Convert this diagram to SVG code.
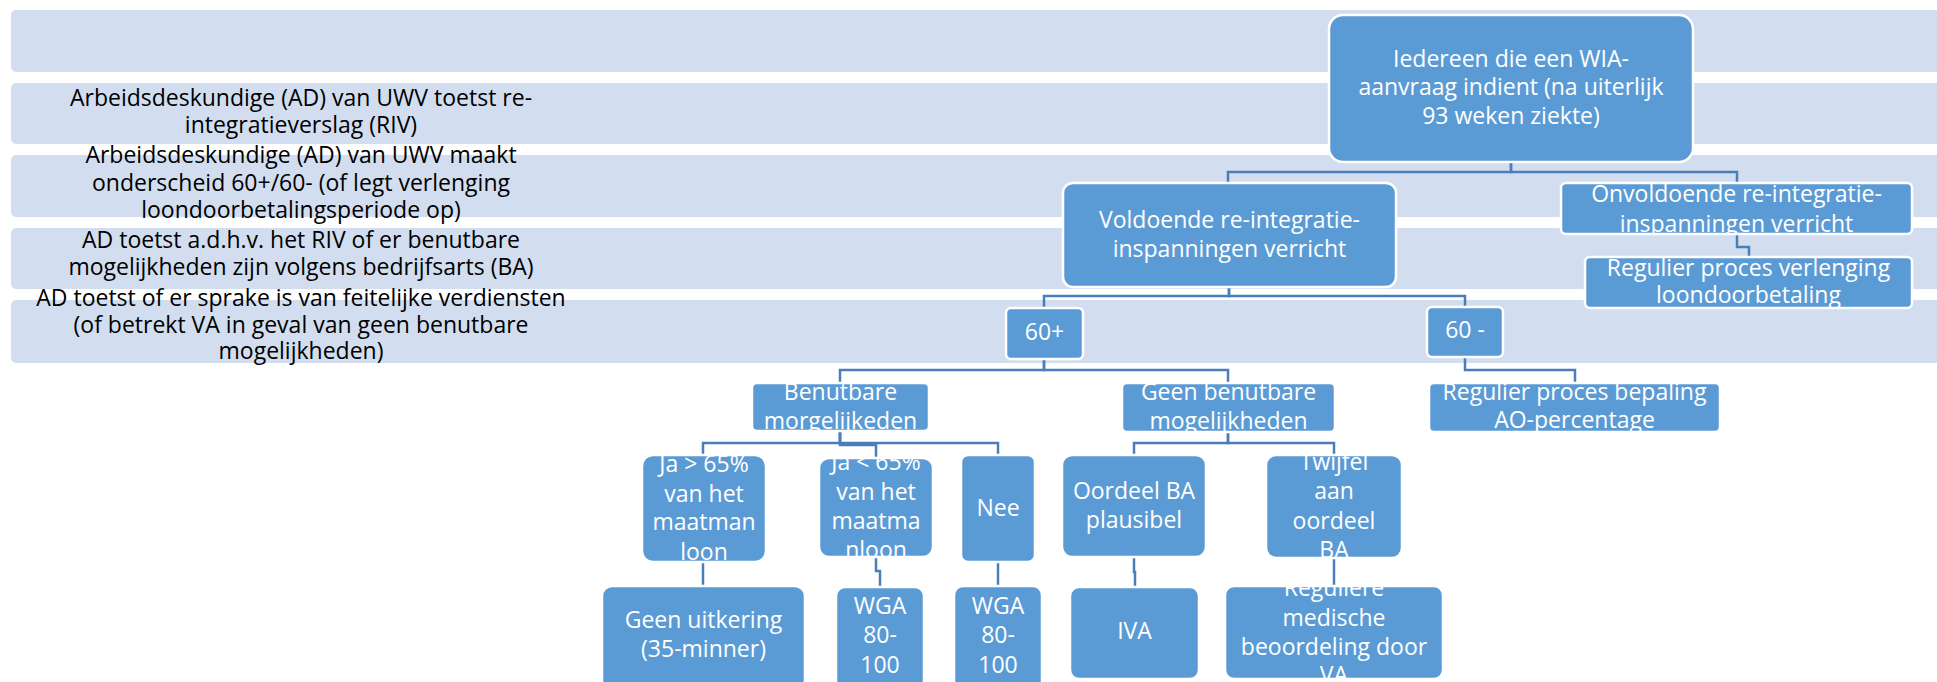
<svg xmlns="http://www.w3.org/2000/svg" width="1937" height="682" viewBox="0 0 1937 682">
<style>
.band{fill:#D2DEEF;}
.bt{font-family:"Open Sans","Noto Sans",sans-serif;font-size:23px;fill:#000;text-anchor:middle;}
.node{fill:#5B9BD5;stroke:#FFFFFF;stroke-width:2.5;}
.nt{font-family:"Open Sans","Noto Sans",sans-serif;font-size:23px;fill:#FFFFFF;text-anchor:middle;}
.conn{fill:none;stroke:#4A7EBB;stroke-width:2.5;}
</style>
<defs>
<clipPath id="c-onv"><rect x="1561" y="183" width="351" height="51" rx="5"/></clipPath>
<clipPath id="c-rvl"><rect x="1585" y="257" width="327" height="51" rx="5"/></clipPath>
<clipPath id="c-rbp"><rect x="1429" y="383" width="291" height="49" rx="5"/></clipPath>
<clipPath id="c-ben"><rect x="752" y="383" width="177" height="48" rx="5"/></clipPath>
<clipPath id="c-gbm"><rect x="1122" y="383" width="213" height="49" rx="5"/></clipPath>
<clipPath id="c-ja1"><rect x="642" y="455" width="124" height="107" rx="11"/></clipPath>
<clipPath id="c-ja2"><rect x="819" y="458" width="114" height="99" rx="10"/></clipPath>
<clipPath id="c-twi"><rect x="1266" y="455" width="136" height="103" rx="10"/></clipPath>
<clipPath id="c-reg"><rect x="1225" y="586" width="218" height="93" rx="9"/></clipPath>
</defs>

<g id="bands">
<rect class="band" x="11" y="10" width="1940" height="62" rx="5"/>
<rect class="band" x="11" y="83" width="1940" height="61" rx="5"/>
<rect class="band" x="11" y="155" width="1940" height="62" rx="5"/>
<rect class="band" x="11" y="228" width="1940" height="61" rx="5"/>
<rect class="band" x="11" y="300" width="1940" height="63" rx="5"/>
<text class="bt" x="301"><tspan x="301" y="106">Arbeidsdeskundige (AD) van UWV toetst re-</tspan><tspan x="301" y="133">integratieverslag (RIV)</tspan></text>
<text class="bt" x="301"><tspan x="301" y="163">Arbeidsdeskundige (AD) van UWV maakt</tspan><tspan x="301" y="191">onderscheid 60+/60- (of legt verlenging</tspan><tspan x="301" y="218">loondoorbetalingsperiode op)</tspan></text>
<text class="bt" x="301"><tspan x="301" y="248">AD toetst a.d.h.v. het RIV of er benutbare</tspan><tspan x="301" y="275">mogelijkheden zijn volgens bedrijfsarts (BA)</tspan></text>
<text class="bt" x="301"><tspan x="301" y="306">AD toetst of er sprake is van feitelijke verdiensten</tspan><tspan x="301" y="333">(of betrekt VA in geval van geen benutbare</tspan><tspan x="301" y="359">mogelijkheden)</tspan></text>
</g>

<g id="connectors">
<path class="conn" d="M1511,162 V172 H1228 V183"/>
<path class="conn" d="M1511,162 V172 H1737 V183"/>
<path class="conn" d="M1737,234 V247 H1749 V257"/>
<path class="conn" d="M1229,287 V296 H1044 V308"/>
<path class="conn" d="M1229,287 V296 H1465 V307"/>
<path class="conn" d="M1044,359 V370 H840 V383"/>
<path class="conn" d="M1044,359 V370 H1228 V383"/>
<path class="conn" d="M1465,357 V370 H1575 V383"/>
<path class="conn" d="M840,431 V443 H703 V455"/>
<path class="conn" d="M840,431 V445 H876 V458"/>
<path class="conn" d="M840,431 V443 H998 V455"/>
<path class="conn" d="M1228,432 V443 H1134 V455"/>
<path class="conn" d="M1228,432 V443 H1334 V455"/>
<path class="conn" d="M703,562 V586"/>
<path class="conn" d="M876,557 V571 H880 V587"/>
<path class="conn" d="M998,562 V586"/>
<path class="conn" d="M1134,557 V572 H1135 V587"/>
<path class="conn" d="M1334,558 V586"/>
</g>

<g id="node-root">
<rect class="node" x="1329" y="15" width="364" height="147" rx="14"/>
<text class="nt"><tspan x="1511" y="67">Iedereen die een WIA-</tspan><tspan x="1511" y="95">aanvraag indient (na uiterlijk</tspan><tspan x="1511" y="124">93 weken ziekte)</tspan></text>
</g>
<g id="node-voldoende">
<rect class="node" x="1063" y="183" width="333" height="104" rx="10"/>
<text class="nt"><tspan x="1229.5" y="228">Voldoende re-integratie-</tspan><tspan x="1229.5" y="257">inspanningen verricht</tspan></text>
</g>
<g id="node-onvoldoende">
<rect class="node" x="1561" y="183" width="351" height="51" rx="5"/>
<text class="nt" clip-path="url(#c-onv)"><tspan x="1736.5" y="202">Onvoldoende re-integratie-</tspan><tspan x="1736.5" y="232">inspanningen verricht</tspan></text>
</g>
<g id="node-regulier-verlenging">
<rect class="node" x="1585" y="257" width="327" height="51" rx="5"/>
<text class="nt" clip-path="url(#c-rvl)"><tspan x="1748.5" y="276">Regulier proces verlenging</tspan><tspan x="1748.5" y="303">loondoorbetaling</tspan></text>
</g>
<g id="node-60plus">
<rect class="node" x="1006" y="308" width="77" height="51" rx="5"/>
<text class="nt" x="1044.5" y="340">60+</text>
</g>
<g id="node-60min">
<rect class="node" x="1427" y="307" width="76" height="50" rx="5"/>
<text class="nt" x="1465" y="338">60 -</text>
</g>
<g id="node-regulier-bepaling">
<rect class="node" x="1429" y="383" width="291" height="49" rx="5"/>
<text class="nt" clip-path="url(#c-rbp)"><tspan x="1574.5" y="400">Regulier proces bepaling</tspan><tspan x="1574.5" y="428">AO-percentage</tspan></text>
</g>
<g id="node-benutbare">
<rect class="node" x="752" y="383" width="177" height="48" rx="5"/>
<text class="nt" clip-path="url(#c-ben)"><tspan x="840.5" y="400">Benutbare</tspan><tspan x="840.5" y="429">morgelijkeden</tspan></text>
</g>
<g id="node-geen-benutbare">
<rect class="node" x="1122" y="383" width="213" height="49" rx="5"/>
<text class="nt" clip-path="url(#c-gbm)"><tspan x="1228.5" y="400">Geen benutbare</tspan><tspan x="1228.5" y="429">mogelijkheden</tspan></text>
</g>
<g id="node-ja-meer">
<rect class="node" x="642" y="455" width="124" height="107" rx="11"/>
<text class="nt" clip-path="url(#c-ja1)"><tspan x="704" y="472">Ja &gt; 65%</tspan><tspan x="704" y="502">van het</tspan><tspan x="704" y="530">maatman</tspan><tspan x="704" y="560">loon</tspan></text>
</g>
<g id="node-ja-minder">
<rect class="node" x="819" y="458" width="114" height="99" rx="10"/>
<text class="nt" clip-path="url(#c-ja2)"><tspan x="876" y="470">Ja &lt; 65%</tspan><tspan x="876" y="500">van het</tspan><tspan x="876" y="529">maatma</tspan><tspan x="876" y="558">nloon</tspan></text>
</g>
<g id="node-nee">
<rect class="node" x="961" y="455" width="74" height="107" rx="7"/>
<text class="nt" x="998" y="516">Nee</text>
</g>
<g id="node-oordeel">
<rect class="node" x="1062" y="455" width="144" height="102" rx="10"/>
<text class="nt"><tspan x="1134" y="499">Oordeel BA</tspan><tspan x="1134" y="528">plausibel</tspan></text>
</g>
<g id="node-twijfel">
<rect class="node" x="1266" y="455" width="136" height="103" rx="10"/>
<text class="nt" clip-path="url(#c-twi)"><tspan x="1334" y="470">Twijfel</tspan><tspan x="1334" y="499">aan</tspan><tspan x="1334" y="529">oordeel</tspan><tspan x="1334" y="558">BA</tspan></text>
</g>
<g id="node-geen-uitkering">
<rect class="node" x="602" y="586" width="203" height="104" rx="10"/>
<text class="nt"><tspan x="703.5" y="628">Geen uitkering</tspan><tspan x="703.5" y="657">(35-minner)</tspan></text>
</g>
<g id="node-wga1">
<rect class="node" x="836" y="587" width="88" height="103" rx="9"/>
<text class="nt"><tspan x="880" y="614">WGA</tspan><tspan x="880" y="643">80-</tspan><tspan x="880" y="673">100</tspan></text>
</g>
<g id="node-wga2">
<rect class="node" x="954" y="586" width="88" height="104" rx="9"/>
<text class="nt"><tspan x="998" y="614">WGA</tspan><tspan x="998" y="643">80-</tspan><tspan x="998" y="673">100</tspan></text>
</g>
<g id="node-iva">
<rect class="node" x="1070" y="587" width="129" height="92" rx="9"/>
<text class="nt" x="1134.5" y="639">IVA</text>
</g>
<g id="node-reguliere">
<rect class="node" x="1225" y="586" width="218" height="93" rx="9"/>
<text class="nt" clip-path="url(#c-reg)"><tspan x="1334" y="596">Reguliere</tspan><tspan x="1334" y="626">medische</tspan><tspan x="1334" y="655">beoordeling door</tspan><tspan x="1334" y="683">VA</tspan></text>
</g>
</svg>
